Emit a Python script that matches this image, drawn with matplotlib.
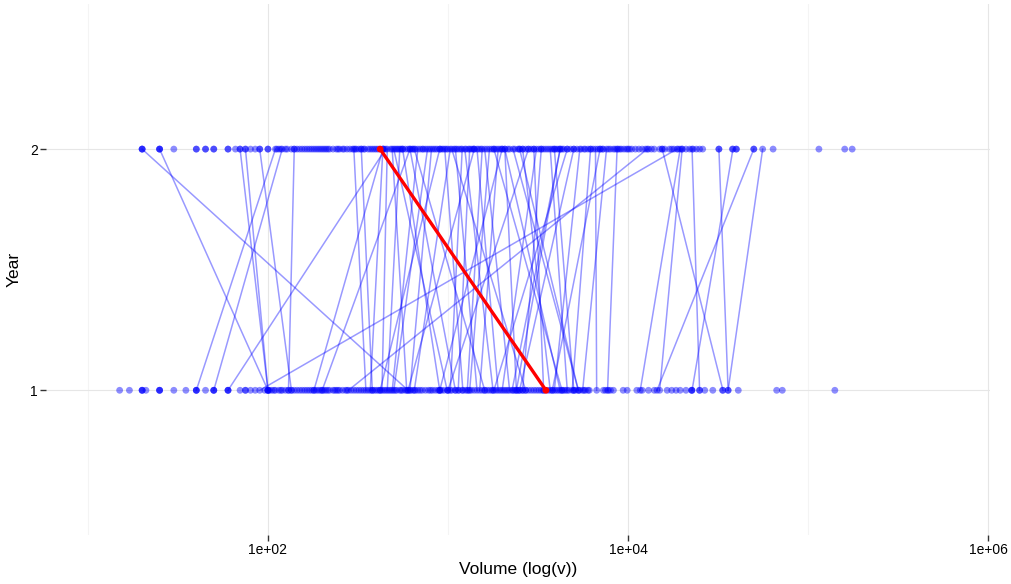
import numpy as np
import matplotlib.pyplot as plt
from matplotlib.ticker import FixedLocator, NullFormatter

plt.rcParams['font.family'] = ['Liberation Sans', 'DejaVu Sans']

# paired volumes: year 1 (bottom) -> year 2 (top)
pair_y1 = [600, 100, 40, 50, 60, 100, 100, 135, 130, 180, 200, 90, 280,
           350, 370, 430, 590, 990, 460, 1100, 490, 500, 615, 1210, 650,
           1450, 1030, 1780, 1140, 1900, 1280, 2200, 1320, 1500, 2400,
           2270, 2000, 3700, 4200, 4600, 3900, 4900, 5300, 5600, 6700,
           7700, 15000, 2400,
           11700, 33700, 25000, 36000, 22700, 14500, 36000,
           380, 900, 420, 1600, 600, 2700, 900, 1000, 4300, 2600, 5300,
           1800, 3400, 2500, 5000, 3800]
pair_y2 = [20, 25, 110, 120, 450, 70, 75, 90, 140, 435, 615, 18700, 12800,
           300, 435, 460, 490, 500, 540, 615, 680, 770, 810, 960, 1030,
           1100, 1200, 1240, 1320, 1450, 1550, 1600, 1700, 1900, 2070,
           4200, 3100, 2600, 2070, 3700, 5400, 6200, 2300, 7600, 6600,
           8700, 20000, 4200,
           19500, 15500, 22700, 32000, 38300, 50000, 56000,
           330, 560, 900, 650, 1400, 1050, 2000, 2800, 1800, 3300, 2500,
           4600, 3000, 5000, 3900, 7000]

# highlighted pair
red_y1 = 3500
red_y2 = 420

# unpaired observations
extra_y1 = [15, 17, 20, 20, 20, 21, 25, 25, 25, 30, 35, 40, 40, 45, 50, 50,
            60, 60, 70, 75, 75, 80, 85, 96, 100, 110, 120, 125, 140, 150,
            160, 170, 190, 210, 220, 240, 250, 260, 300, 320, 400, 420, 520,
            550, 700, 750, 800, 850, 900, 1000, 1200, 1600, 1700, 2100, 2500,
            2700, 2900, 3200, 3300, 4000, 4400, 5000, 5800, 6000, 7300, 7800,
            8300, 9400, 9900, 11200, 12000, 13000, 14000, 16500, 17500, 18500,
            19500, 21000, 22600, 22600, 25000, 26700, 29600, 33500, 41000,
            67000, 72000, 141000,
            102, 105, 108, 115, 118, 130, 135, 145, 155, 165, 175, 180, 185,
            195, 200, 205, 215, 230, 235, 245, 270, 275, 290, 310, 330, 340,
            360, 380, 390, 410, 440, 450, 470, 480, 510, 540, 560, 580, 620,
            640, 660, 680, 720, 780, 820, 880, 920, 950, 1050, 1100, 1150,
            1250, 1300, 1350, 1400, 1550, 1650, 1750, 1850, 1950, 2050, 2150,
            2300, 2350, 2450, 2600, 2800, 3000, 3100, 3400, 3600, 3800, 4100,
            4300, 4500, 4700, 5100, 5400, 5700, 6100, 7500, 8000]
extra_y2 = [20, 20, 25, 25, 30, 40, 40, 45, 45, 50, 50, 60, 60, 66, 70, 75,
            80, 85, 90, 100, 100, 115, 125, 135, 150, 160, 170, 185, 195, 210,
            230, 250, 260, 275, 320, 330, 360, 380, 400, 520, 560, 630, 700,
            730, 850, 900, 1150, 1400, 1800, 2500, 2800, 3300, 3500, 3800,
            4000, 4400, 4800, 5000, 5800, 6000, 6400, 7000, 7300, 8000, 8300,
            9000, 9500, 10000, 10500, 11000, 12000, 13500, 14000, 16000, 17000,
            18000, 21000, 24000, 26000, 32000, 38000, 40000, 40000, 50000,
            64000, 115000, 160000, 176000,
            112, 118, 128, 140, 145, 155, 165, 175, 180, 190, 200, 205, 215,
            220, 240, 245, 265, 285, 295, 305, 310, 340, 345, 370, 390, 410,
            440, 480, 510, 530, 550, 580, 600, 640, 660, 720, 750, 790, 830,
            870, 920, 940, 980, 1000, 1080, 1120, 1180, 1260, 1300, 1350,
            1380, 1480, 1520, 1650, 1750, 1850, 1950, 2000, 2150, 2200, 2350,
            2450, 2600, 2700, 2900, 3000, 3200, 3400, 3600, 3900, 4100, 4300,
            4600, 5200, 5500, 5700, 6200, 6800, 7200, 7800, 8500, 8800, 9200,
            9800, 10200, 11500, 12500, 13000, 15000, 15500, 17500, 19000,
            20000, 22000, 23000, 25000]

fig = plt.figure(figsize=(10.11, 5.84), dpi=100)
ax = fig.add_axes([0.0455, 0.0839, 0.9337, 0.9086])

for a, b in zip(pair_y1, pair_y2):
    ax.plot([a, b], [1, 2], color='#0000ff', alpha=0.4, lw=1.1, zorder=2)

all_y1 = pair_y1 + extra_y1
all_y2 = pair_y2 + extra_y2
ax.scatter(all_y1, [1] * len(all_y1), s=24, color='#0000ff', alpha=0.45,
           edgecolors='none', zorder=3)
ax.scatter(all_y2, [2] * len(all_y2), s=24, color='#0000ff', alpha=0.45,
           edgecolors='none', zorder=3)

ax.plot([red_y1, red_y2], [1, 2], color='#ff0000', lw=2.4, zorder=4)
ax.scatter([red_y1, red_y2], [1, 2], s=24, color='#ff0000', edgecolors='none',
           zorder=5)

ax.set_xscale('log')
ax.set_xlim(10 ** 0.767, 10 ** 6.011)
ax.set_ylim(0.4, 2.6)
ax.xaxis.set_major_locator(FixedLocator([1e2, 1e4, 1e6]))
ax.set_xticklabels(['1e+02', '1e+04', '1e+06'])
ax.xaxis.set_minor_locator(FixedLocator([1e1, 1e3, 1e5]))
ax.xaxis.set_minor_formatter(NullFormatter())
ax.set_yticks([1, 2])
ax.set_yticklabels(['1', '2'])

ax.grid(True, which='major', color='#e6e6e6', lw=0.8, zorder=0)
ax.grid(True, which='minor', axis='x', color='#f4f4f4', lw=0.8, zorder=0)
ax.set_axisbelow(True)
for s in ax.spines.values():
    s.set_visible(False)
ax.tick_params(which='major', length=4, width=1, color='#333333',
               labelsize=10, labelcolor='black', pad=2)
ax.tick_params(which='minor', length=0)

ax.set_xlabel('Volume (log(v))', fontsize=12.5, labelpad=3)
ax.set_ylabel('Year', fontsize=12.5, labelpad=6)

fig.savefig('out.png', dpi=100)
